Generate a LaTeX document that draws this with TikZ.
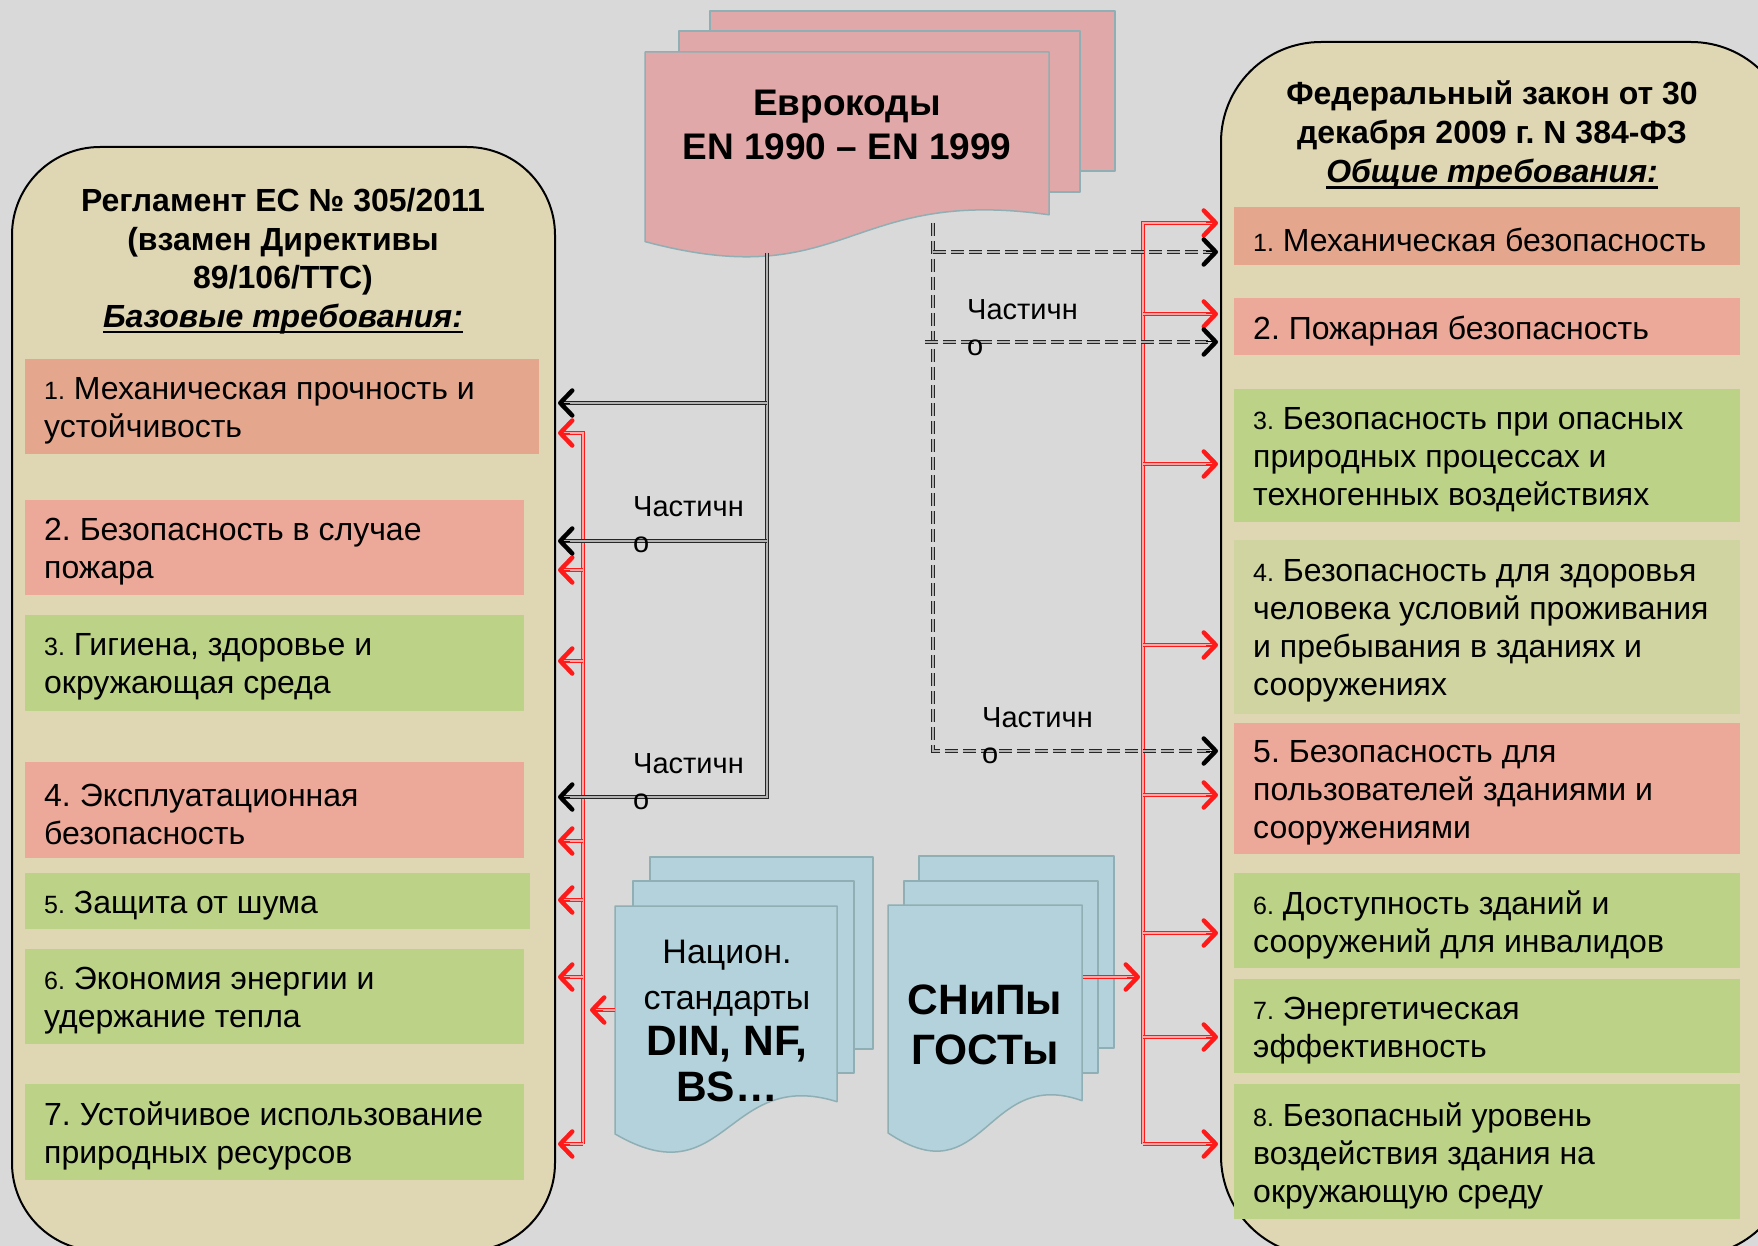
\documentclass[tikz,border=0pt]{standalone}
\usepackage{fontspec}
\setmainfont{Liberation Sans}
\usetikzlibrary{arrows.meta}
\definecolor{bg}{HTML}{D9D9D9}
\definecolor{panel}{HTML}{DFD6B4}
\definecolor{cOr}{HTML}{E5A68E}
\definecolor{cSal}{HTML}{ECA898}
\definecolor{cGr}{HTML}{BCD287}
\definecolor{cLg}{HTML}{CFD4A0}
\definecolor{cPink}{HTML}{E0A8A8}
\definecolor{cBlue}{HTML}{B4D2DC}
\definecolor{cEdge}{HTML}{8FAFB4}
\definecolor{cRed}{HTML}{FF1A1A}
\AtBeginDocument{\frenchspacing}
\newcommand\fs[2]{\fontsize{#1}{#2}\selectfont}
\newcommand\nm[1]{{\fs{25}{38}#1}}
\newsavebox\ulbox
\newcommand\myul[1]{\sbox\ulbox{#1}\rlap{\rule[-6pt]{\wd\ulbox}{2.2pt}}\usebox\ulbox}
\newcommand\docsheet[5]{\draw[sheet,fill=#1] (#2,#3) -- (#4,#3) -- (#4,{#3+0.802*#5}) .. controls ({(#2+#4)/2},{#3+0.66*#5}) and ({(#2+#4)/2},{#3+1.2*#5}) .. (#2,{#3+0.934*#5}) -- cycle;}
\tikzset{
  panelbox/.style={draw=black, line width=2pt, fill=panel, rounded corners=#1, inner sep=0, anchor=north west},
  itembox/.style={inner sep=0, anchor=north west, minimum width=#1},
  itemtext/.style={anchor=west, align=left, inner sep=0, yshift=-4pt, font=\fs{32}{38}},
  titletext/.style={align=center, inner sep=0, font=\bfseries\fs{32}{39}},
  sheet/.style={draw=cEdge, line width=1.5pt, line join=round},
  lbl/.style={anchor=west, align=left, inner sep=0, font=\fs{29}{36}},
  barb/.style={-{Straight Barb[length=12pt,width=25pt,line width=4.5pt 0,round]}},
  ktip/.style={barb, draw=black, line width=1pt},
  rtip/.style={barb, draw=cRed, line width=1pt},
  blkline/.style={draw=black!85, double=gray!60, line width=1.6pt, double distance=1.3pt},
  dshline/.style={blkline, dash pattern=on 13pt off 5pt},
  redline/.style={draw=cRed, double=red!35!white, line width=1.4pt, double distance=1.3pt},
}
\begin{document}
\begin{tikzpicture}[x=1pt,y=-1pt]
\useasboundingbox (0,0) rectangle (1758,1246);
\clip (0,0) rectangle (1758,1246);
\fill[bg] (0,0) rectangle (1758,1246);

% panels
\node[panelbox=88, minimum width=543pt, minimum height=1104pt] (lp) at (11,146) {};
\node[panelbox=100, minimum width=570pt, minimum height=1214pt] (rp) at (1220,41) {};

% titles
\node[titletext, font=\bfseries\fs{32}{38.5}] (lt) at (283,261) {Регламент ЕС № 305/2011\\(взамен Директивы\\89/106/ТТС)\\\textit{\myul{Базовые требования:}}};
\node[titletext] (rt) at (1492,135) {Федеральный закон от 30\\декабря 2009 г. N 384-ФЗ\\\textit{\myul{Общие требования:}}};

% left items
\node[itembox=514pt, fill=cOr, minimum height=95pt] (l1) at (25,359) {};
\node[itemtext] at ([xshift=19pt]l1.west) {\nm{1.} Механическая прочность и\\устойчивость};
\node[itembox=499pt, fill=cSal, minimum height=95pt] (l2) at (25,500) {};
\node[itemtext] at ([xshift=19pt]l2.west) {2. Безопасность в случае\\пожара};
\node[itembox=499pt, fill=cGr, minimum height=96pt] (l3) at (25,615) {};
\node[itemtext] at ([xshift=19pt]l3.west) {\nm{3.} Гигиена, здоровье и\\окружающая среда};
\node[itembox=499pt, fill=cSal, minimum height=96pt] (l4) at (25,762) {};
\node[itemtext] at ([xshift=19pt]l4.west) {4. Эксплуатационная\\безопасность};
\node[itembox=505pt, fill=cGr, minimum height=56pt] (l5) at (25,873) {};
\node[itemtext] at ([xshift=19pt]l5.west) {\nm{5.} Защита от шума};
\node[itembox=499pt, fill=cGr, minimum height=95pt] (l6) at (25,949) {};
\node[itemtext] at ([xshift=19pt]l6.west) {\nm{6.} Экономия энергии и\\удержание тепла};
\node[itembox=499pt, fill=cGr, minimum height=96pt] (l7) at (25,1084) {};
\node[itemtext] at ([xshift=19pt]l7.west) {7. Устойчивое использование\\природных ресурсов};

% right items
\node[itembox=506pt, fill=cOr, minimum height=58pt] (r1) at (1234,207) {};
\node[itemtext] at ([xshift=19pt]r1.west) {\nm{1.} Механическая безопасность};
\node[itembox=506pt, fill=cSal, minimum height=57pt] (r2) at (1234,298) {};
\node[itemtext] at ([xshift=19pt]r2.west) {2. Пожарная безопасность};
\node[itembox=506pt, fill=cGr, minimum height=133pt] (r3) at (1234,389) {};
\node[itemtext] at ([xshift=19pt]r3.west) {\nm{3.} Безопасность при опасных\\природных процессах и\\техногенных воздействиях};
\node[itembox=506pt, fill=cLg, minimum height=174pt] (r4) at (1234,540) {};
\node[itemtext] at ([xshift=19pt]r4.west) {\nm{4.} Безопасность для здоровья\\человека условий проживания\\и пребывания в зданиях и\\сооружениях};
\node[itembox=506pt, fill=cSal, minimum height=131pt] (r5) at (1234,723) {};
\node[itemtext] at ([xshift=19pt]r5.west) {5. Безопасность для\\пользователей зданиями и\\сооружениями};
\node[itembox=506pt, fill=cGr, minimum height=95pt] (r6) at (1234,873) {};
\node[itemtext] at ([xshift=19pt]r6.west) {\nm{6.} Доступность зданий и\\сооружений для инвалидов};
\node[itembox=506pt, fill=cGr, minimum height=94pt] (r7) at (1234,979) {};
\node[itemtext] at ([xshift=19pt]r7.west) {\nm{7.} Энергетическая\\эффективность};
\node[itembox=506pt, fill=cGr, minimum height=135pt] (r8) at (1234,1084) {};
\node[itemtext] at ([xshift=19pt]r8.west) {\nm{8.} Безопасный уровень\\воздействия здания на\\окружающую среду};

% Eurocodes stack
\draw[sheet, fill=cPink] (710,11) rectangle (1115,171);
\draw[sheet, fill=cPink] (679,31) rectangle (1080,192);
\docsheet{cPink}{645}{52}{1049}{203}
\node[align=center, inner sep=0, font=\bfseries\fs{37}{44}] (euro) at (847,125) {Еврокоды\\EN 1990 – EN 1999};

% national standards stack
\draw[sheet, fill=cBlue] (650,857) rectangle (873,1049);
\draw[sheet, fill=cBlue] (633,881) rectangle (854,1073);
\docsheet{cBlue}{615}{906}{837}{244}
\node[align=center, inner sep=0, font=\fs{34}{46}] (nat) at (727,1021) {Национ.\\стандарты\\{\bfseries\fs{42.5}{46}DIN, NF,}\\{\bfseries\fs{42.5}{46}BS…}};

% SNiP stack
\draw[sheet, fill=cBlue] (919,856) rectangle (1114,1048);
\draw[sheet, fill=cBlue] (904,881) rectangle (1098,1073);
\docsheet{cBlue}{888}{905}{1082}{244}
\node[align=center, inner sep=0, font=\bfseries\fs{42.5}{50}] (snip) at (985,1025) {СНиПы\\ГОСТы};

% coordinates
\coordinate (eb) at (767,253);
\coordinate (b1) at (767,403);
\coordinate (b2) at (767,541);
\coordinate (b3) at (767,797);
\coordinate (ed) at (933,223);
\coordinate (d1) at (933,252);
\coordinate (d2) at (925,342);
\coordinate (d3) at (933,751);
\coordinate (natw) at (615,1010);
\coordinate (snpe) at (1083,977);
\foreach \n/\y in {1/433,2/570,3/661,4/841,5/900,6/977,7/1144}
  \coordinate (lb\n) at (583,\y);
\foreach \n/\y in {1/223,2/314,3/464,4/645,5/795,6/933,7/1037,8/1144}
  \coordinate (rb\n) at (1143,\y);

% red buses
\draw[redline, shorten >=5pt] (lb7) -- (lb1) -- (lb1 -| lp.east);
\foreach \n in {2,...,7}
  \draw[redline, shorten >=5pt] (lb\n) -- (lb\n -| lp.east);
\foreach \n in {1,...,7}
  \draw[rtip] ([xshift=14pt]lb\n -| lp.east) -- ([xshift=2pt]lb\n -| lp.east);
\draw[redline, shorten >=5pt] (natw) -- ([xshift=6pt]natw -| lb1);
\draw[rtip] ([xshift=20pt]natw -| lb1) -- ([xshift=7pt]natw -| lb1);
\draw[redline, shorten >=5pt] (rb8) -- (rb1) -- (rb1 -| rp.west);
\foreach \n in {2,...,8}
  \draw[redline, shorten >=5pt] (rb\n) -- (rb\n -| rp.west);
\foreach \n in {1,...,8}
  \draw[rtip] ([xshift=-14pt]rb\n -| rp.west) -- ([xshift=-2pt]rb\n -| rp.west);
\draw[redline, shorten >=5pt] (snpe) -- ([xshift=-2pt]snpe -| rb1);
\draw[rtip] ([xshift=-16pt]snpe -| rb1) -- ([xshift=-3pt]snpe -| rb1);

% black solid
\draw[blkline, shorten >=5pt] (eb) -- (b3) -- (b3 -| lp.east);
\draw[blkline, shorten >=5pt] (b1) -- (b1 -| lp.east);
\draw[blkline, shorten >=5pt] (b2) -- (b2 -| lp.east);
\foreach \c in {b1,b2,b3}
  \draw[ktip] ([xshift=14pt]\c -| lp.east) -- ([xshift=2pt]\c -| lp.east);

% black dashed
\draw[dshline, shorten >=5pt] (ed) -- (d3) -- (d3 -| rp.west);
\draw[dshline, shorten >=5pt] (d1) -- (d1 -| rp.west);
\draw[dshline, shorten >=5pt] (d2) -- (d2 -| rp.west);
\foreach \c in {d1,d2,d3}
  \draw[ktip] ([xshift=-14pt]\c -| rp.west) -- ([xshift=-2pt]\c -| rp.west);

% labels
\node[lbl] (q1) at (633,525) {Частичн\\о};
\node[lbl] (q2) at (633,782) {Частичн\\о};
\node[lbl] (q3) at (967,328) {Частичн\\о};
\node[lbl] (q4) at (982,736) {Частичн\\о};
\end{tikzpicture}
\end{document}
